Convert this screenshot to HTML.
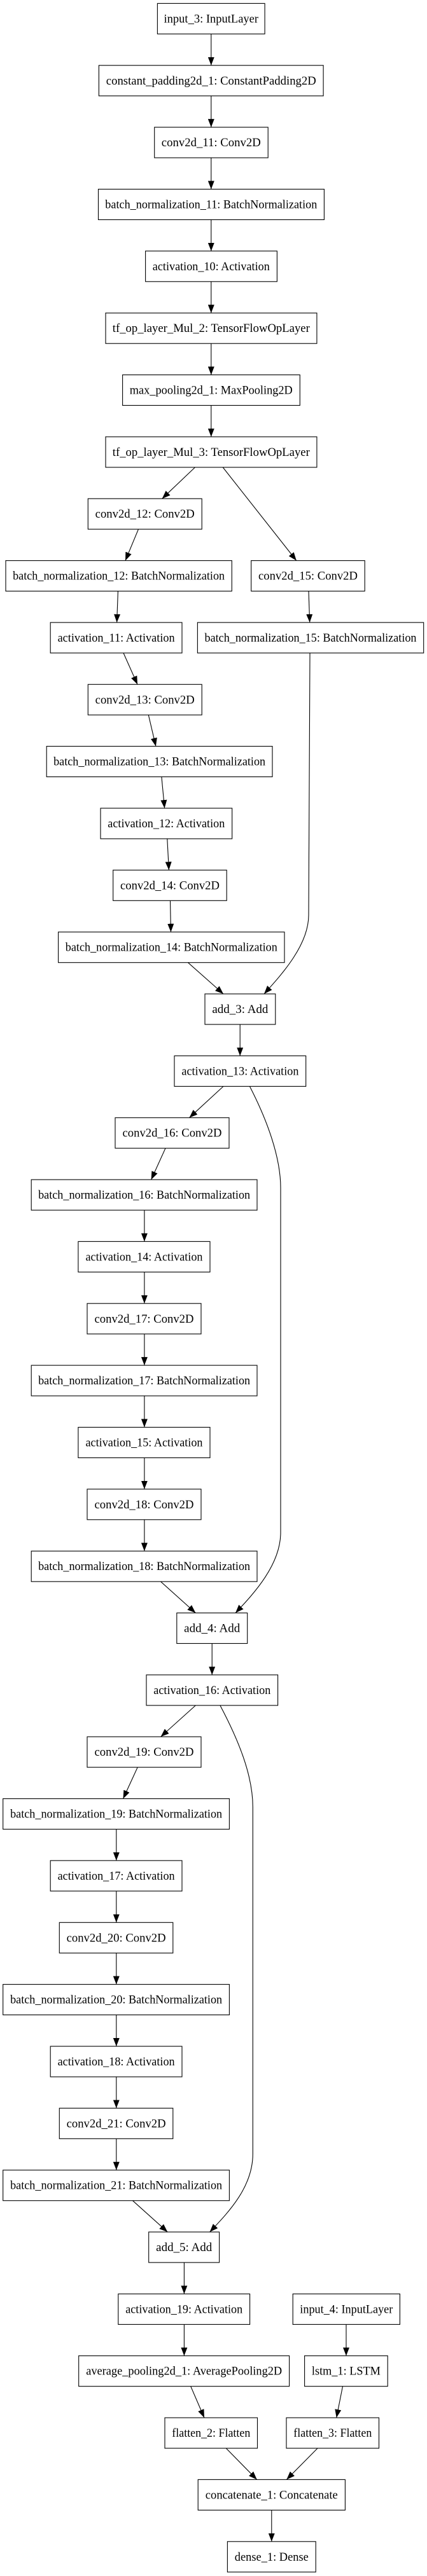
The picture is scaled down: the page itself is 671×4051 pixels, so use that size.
<!DOCTYPE html>
<html><head><meta charset="utf-8"><style>
html,body{margin:0;padding:0;background:#fff;}
svg{display:block;}
rect{fill:#fff;stroke:#000;stroke-width:1.1;}
text{font-family:"Liberation Serif",serif;font-size:18.5px;fill:#000;text-anchor:middle;}
path.e{fill:none;stroke:#000;stroke-width:1.1;}
</style></head><body>
<svg width="671" height="4051" viewBox="0 0 671 4051" xmlns="http://www.w3.org/2000/svg">
<defs><marker id="a" markerUnits="userSpaceOnUse" markerWidth="13" markerHeight="10" viewBox="0 0 13 10" refX="13" refY="5" orient="auto"><path d="M0,0 L13,5 L0,10 z" fill="#000"/></marker></defs>
<g>
<rect x="247.4" y="5.4" width="168.7" height="48"/><text x="331.8" y="35.4">input_3: InputLayer</text>
<rect x="155.4" y="102.8" width="352.7" height="48"/><text x="331.8" y="132.8" textLength="330" lengthAdjust="spacingAndGlyphs">constant_padding2d_1: ConstantPadding2D</text>
<rect x="242.7" y="200.1" width="178.5" height="48"/><text x="331.8" y="230.1" textLength="156" lengthAdjust="spacingAndGlyphs">conv2d_11: Conv2D</text>
<rect x="154.5" y="297.5" width="354.9" height="48"/><text x="331.8" y="327.5" textLength="333" lengthAdjust="spacingAndGlyphs">batch_normalization_11: BatchNormalization</text>
<rect x="228.6" y="394.8" width="206.8" height="48"/><text x="331.8" y="424.8" textLength="184" lengthAdjust="spacingAndGlyphs">activation_10: Activation</text>
<rect x="166" y="492.2" width="331.9" height="48"/><text x="331.8" y="522.2" textLength="310" lengthAdjust="spacingAndGlyphs">tf_op_layer_Mul_2: TensorFlowOpLayer</text>
<rect x="192.6" y="589.5" width="278.7" height="48"/><text x="331.8" y="619.5" textLength="256" lengthAdjust="spacingAndGlyphs">max_pooling2d_1: MaxPooling2D</text>
<rect x="166" y="686.9" width="331.9" height="48"/><text x="331.8" y="716.9" textLength="310" lengthAdjust="spacingAndGlyphs">tf_op_layer_Mul_3: TensorFlowOpLayer</text>
<rect x="138.3" y="784.2" width="178.9" height="48"/><text x="227.7" y="814.2" textLength="156" lengthAdjust="spacingAndGlyphs">conv2d_12: Conv2D</text>
<rect x="9" y="881.6" width="355.3" height="48"/><text x="186.6" y="911.6" textLength="333" lengthAdjust="spacingAndGlyphs">batch_normalization_12: BatchNormalization</text>
<rect x="394.7" y="881.6" width="178.5" height="48"/><text x="484" y="911.6" textLength="156" lengthAdjust="spacingAndGlyphs">conv2d_15: Conv2D</text>
<rect x="79.2" y="978.9" width="206.8" height="48"/><text x="182.6" y="1008.9" textLength="184" lengthAdjust="spacingAndGlyphs">activation_11: Activation</text>
<rect x="310.4" y="978.9" width="355.3" height="48"/><text x="488" y="1008.9" textLength="333" lengthAdjust="spacingAndGlyphs">batch_normalization_15: BatchNormalization</text>
<rect x="138.3" y="1076.3" width="178.9" height="48"/><text x="227.7" y="1106.3" textLength="156" lengthAdjust="spacingAndGlyphs">conv2d_13: Conv2D</text>
<rect x="73.2" y="1173.6" width="354.8" height="48"/><text x="250.6" y="1203.6" textLength="333" lengthAdjust="spacingAndGlyphs">batch_normalization_13: BatchNormalization</text>
<rect x="158" y="1271" width="206.7" height="48"/><text x="261.3" y="1301" textLength="184" lengthAdjust="spacingAndGlyphs">activation_12: Activation</text>
<rect x="177.7" y="1368.3" width="178.5" height="48"/><text x="267" y="1398.3" textLength="156" lengthAdjust="spacingAndGlyphs">conv2d_14: Conv2D</text>
<rect x="91.6" y="1465.7" width="355.4" height="48"/><text x="269.3" y="1495.7" textLength="333" lengthAdjust="spacingAndGlyphs">batch_normalization_14: BatchNormalization</text>
<rect x="322" y="1563" width="110.8" height="48"/><text x="377.4" y="1593" textLength="88" lengthAdjust="spacingAndGlyphs">add_3: Add</text>
<rect x="274" y="1660.4" width="206.7" height="48"/><text x="377.4" y="1690.4" textLength="184" lengthAdjust="spacingAndGlyphs">activation_13: Activation</text>
<rect x="181" y="1757.7" width="179" height="48"/><text x="270.5" y="1787.7" textLength="156" lengthAdjust="spacingAndGlyphs">conv2d_16: Conv2D</text>
<rect x="49.2" y="1855.1" width="354.8" height="48"/><text x="226.6" y="1885.1" textLength="333" lengthAdjust="spacingAndGlyphs">batch_normalization_16: BatchNormalization</text>
<rect x="122.9" y="1952.4" width="207.1" height="48"/><text x="226.5" y="1982.4" textLength="184" lengthAdjust="spacingAndGlyphs">activation_14: Activation</text>
<rect x="137" y="2049.8" width="179" height="48"/><text x="226.5" y="2079.8" textLength="156" lengthAdjust="spacingAndGlyphs">conv2d_17: Conv2D</text>
<rect x="49.2" y="2147.1" width="354.8" height="48"/><text x="226.6" y="2177.1" textLength="333" lengthAdjust="spacingAndGlyphs">batch_normalization_17: BatchNormalization</text>
<rect x="122.9" y="2244.5" width="207.1" height="48"/><text x="226.5" y="2274.5" textLength="184" lengthAdjust="spacingAndGlyphs">activation_15: Activation</text>
<rect x="137" y="2341.8" width="179" height="48"/><text x="226.5" y="2371.8" textLength="156" lengthAdjust="spacingAndGlyphs">conv2d_18: Conv2D</text>
<rect x="49.2" y="2439.2" width="354.8" height="48"/><text x="226.6" y="2469.2" textLength="333" lengthAdjust="spacingAndGlyphs">batch_normalization_18: BatchNormalization</text>
<rect x="277.8" y="2536.5" width="110.9" height="48"/><text x="333.2" y="2566.5" textLength="88" lengthAdjust="spacingAndGlyphs">add_4: Add</text>
<rect x="230" y="2633.9" width="206.6" height="48"/><text x="333.3" y="2663.9" textLength="184" lengthAdjust="spacingAndGlyphs">activation_16: Activation</text>
<rect x="137" y="2731.2" width="179" height="48"/><text x="226.5" y="2761.2" textLength="156" lengthAdjust="spacingAndGlyphs">conv2d_19: Conv2D</text>
<rect x="4.7" y="2828.6" width="355.7" height="48"/><text x="182.6" y="2858.6" textLength="333" lengthAdjust="spacingAndGlyphs">batch_normalization_19: BatchNormalization</text>
<rect x="79.2" y="2925.9" width="206.8" height="48"/><text x="182.6" y="2955.9" textLength="184" lengthAdjust="spacingAndGlyphs">activation_17: Activation</text>
<rect x="93.3" y="3023.3" width="178.5" height="48"/><text x="182.6" y="3053.3" textLength="156" lengthAdjust="spacingAndGlyphs">conv2d_20: Conv2D</text>
<rect x="4.7" y="3120.6" width="355.7" height="48"/><text x="182.6" y="3150.6" textLength="333" lengthAdjust="spacingAndGlyphs">batch_normalization_20: BatchNormalization</text>
<rect x="79.2" y="3218" width="206.8" height="48"/><text x="182.6" y="3248" textLength="184" lengthAdjust="spacingAndGlyphs">activation_18: Activation</text>
<rect x="93.3" y="3315.3" width="178.5" height="48"/><text x="182.6" y="3345.3" textLength="156" lengthAdjust="spacingAndGlyphs">conv2d_21: Conv2D</text>
<rect x="4.7" y="3412.7" width="355.7" height="48"/><text x="182.6" y="3442.7" textLength="333" lengthAdjust="spacingAndGlyphs">batch_normalization_21: BatchNormalization</text>
<rect x="233.7" y="3510" width="110.9" height="48"/><text x="289.2" y="3540" textLength="88" lengthAdjust="spacingAndGlyphs">add_5: Add</text>
<rect x="185.8" y="3607.4" width="206.8" height="48"/><text x="289.2" y="3637.4" textLength="184" lengthAdjust="spacingAndGlyphs">activation_19: Activation</text>
<rect x="460.2" y="3607.4" width="168.2" height="48"/><text x="544.3" y="3637.4" textLength="146" lengthAdjust="spacingAndGlyphs">input_4: InputLayer</text>
<rect x="123.7" y="3704.7" width="330.9" height="48"/><text x="289.2" y="3734.7" textLength="308" lengthAdjust="spacingAndGlyphs">average_pooling2d_1: AveragePooling2D</text>
<rect x="478.6" y="3704.7" width="130.6" height="48"/><text x="543.9" y="3734.7" textLength="108" lengthAdjust="spacingAndGlyphs">lstm_1: LSTM</text>
<rect x="259" y="3802.1" width="145.5" height="48"/><text x="331.8" y="3832.1" textLength="123" lengthAdjust="spacingAndGlyphs">flatten_2: Flatten</text>
<rect x="450" y="3802.1" width="145.5" height="48"/><text x="522.8" y="3832.1" textLength="123" lengthAdjust="spacingAndGlyphs">flatten_3: Flatten</text>
<rect x="311.2" y="3899.4" width="231.2" height="48"/><text x="426.8" y="3929.4" textLength="208" lengthAdjust="spacingAndGlyphs">concatenate_1: Concatenate</text>
<rect x="357.4" y="3996.8" width="138.8" height="48"/><text x="426.8" y="4026.8" textLength="116" lengthAdjust="spacingAndGlyphs">dense_1: Dense</text>
</g>
<g marker-end="url(#a)">
<path class="e" d="M331.8,53.4 L331.8,102.8"/>
<path class="e" d="M331.8,150.8 L331.8,200.1"/>
<path class="e" d="M331.8,248.1 L331.8,297.5"/>
<path class="e" d="M331.8,345.5 L331.8,394.8"/>
<path class="e" d="M331.8,442.8 L331.8,492.2"/>
<path class="e" d="M331.8,540.2 L331.8,589.5"/>
<path class="e" d="M331.8,637.5 L331.8,686.9"/>
<path class="e" d="M306.5,734.9 L254.7,784.2"/>
<path class="e" d="M350.2,734.9 L465.8,881.6"/>
<path class="e" d="M217.5,832.2 L197,881.6"/>
<path class="e" d="M185.4,929.6 L183.6,978.9"/>
<path class="e" d="M485,929.6 L486.7,978.9"/>
<path class="e" d="M194,1026.9 L216,1076.3"/>
<path class="e" d="M233.3,1124.3 L244.9,1173.6"/>
<path class="e" d="M253.9,1221.6 L258.6,1271"/>
<path class="e" d="M262.8,1319 L265.4,1368.3"/>
<path class="e" d="M267.5,1416.3 L268.5,1465.7"/>
<path class="e" d="M295.4,1513.7 L351,1563"/>
<path class="e" d="M487,1026.9 L485,1439 C485,1485 445,1530 415,1563"/>
<path class="e" d="M377.2,1611 L377.2,1660.4"/>
<path class="e" d="M351,1708.4 L297.5,1757.7"/>
<path class="e" d="M392.4,1708.4 C420,1762 441,1820 441,1868 L441,2410 C441,2460 400,2505 370,2536.5"/>
<path class="e" d="M260,1805.7 L237.6,1855.1"/>
<path class="e" d="M226.9,1903.1 L226.9,1952.4"/>
<path class="e" d="M226.9,2000.4 L226.9,2049.8"/>
<path class="e" d="M226.9,2097.8 L226.9,2147.1"/>
<path class="e" d="M226.9,2195.1 L226.9,2244.5"/>
<path class="e" d="M226.9,2292.5 L226.9,2341.8"/>
<path class="e" d="M226.9,2389.8 L226.9,2439.2"/>
<path class="e" d="M252.6,2487.2 L307.4,2536.5"/>
<path class="e" d="M333.2,2584.5 L333.2,2633.9"/>
<path class="e" d="M307.4,2681.9 L252.6,2731.2"/>
<path class="e" d="M345.9,2681.9 C375,2737 397.3,2792 397.3,2842 L397.3,3387 C397.3,3440 358,3480 329.6,3510"/>
<path class="e" d="M216.2,2779.2 L193.5,2828.6"/>
<path class="e" d="M182.8,2876.6 L182.8,2925.9"/>
<path class="e" d="M182.8,2973.9 L182.8,3023.3"/>
<path class="e" d="M182.8,3071.3 L182.8,3120.6"/>
<path class="e" d="M182.8,3168.6 L182.8,3218"/>
<path class="e" d="M182.8,3266 L182.8,3315.3"/>
<path class="e" d="M182.8,3363.3 L182.8,3412.7"/>
<path class="e" d="M208.5,3460.7 L263.3,3510"/>
<path class="e" d="M289.4,3558 L289.4,3607.4"/>
<path class="e" d="M289.4,3655.4 L289.4,3704.7"/>
<path class="e" d="M544,3655.4 L544,3704.7"/>
<path class="e" d="M299.7,3752.7 L321,3802.1"/>
<path class="e" d="M538.5,3752.7 L528.7,3802.1"/>
<path class="e" d="M355.3,3850.1 L403.7,3899.4"/>
<path class="e" d="M499,3850.1 L450.3,3899.4"/>
<path class="e" d="M426.8,3947.4 L426.8,3996.8"/>
</g>
</svg>
</body></html>
